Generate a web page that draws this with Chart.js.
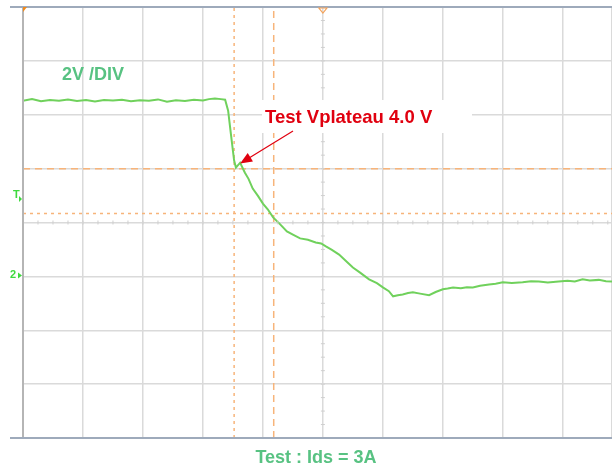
<!DOCTYPE html>
<html>
<head>
<meta charset="utf-8">
<script src="https://cdn.jsdelivr.net/npm/chart.js@4/dist/chart.umd.min.js"></script>
<style>
  body { margin: 0; background: #fff; }
</style>
</head>
<body>
<canvas id="scope" width="612" height="468"></canvas>
<script>
// time axis in divisions, voltage in V (2 V / div)
const traceTime = [0, 0.15, 0.3, 0.45, 0.6, 0.75, 0.9, 1.05, 1.2, 1.35, 1.5, 1.65, 1.8, 1.95, 2.1, 2.25, 2.4, 2.55, 2.7, 2.85, 3.0, 3.1, 3.2, 3.3, 3.37,
  3.42, 3.47, 3.52, 3.55, 3.62, 3.7, 3.76, 3.83, 3.92, 4.0, 4.08, 4.17, 4.28, 4.4, 4.5, 4.62, 4.75, 4.88, 4.97, 5.05, 5.15, 5.27, 5.38, 5.5, 5.62, 5.77, 5.9, 6.0, 6.1, 6.17,
  6.25, 6.33, 6.42, 6.5, 6.62, 6.77, 6.88, 7.0, 7.08, 7.17, 7.3, 7.4, 7.5, 7.62, 7.77, 7.88, 8.0, 8.15, 8.33, 8.47, 8.6, 8.75, 8.93, 9.08, 9.2, 9.33, 9.45, 9.6, 9.72, 9.82];
const traceVolts = [6.52, 6.58, 6.50, 6.55, 6.52, 6.57, 6.51, 6.55, 6.49, 6.55, 6.53, 6.56, 6.50, 6.54, 6.52, 6.57, 6.48, 6.54, 6.51, 6.56, 6.53, 6.58, 6.60, 6.58, 6.56,
  6.15, 5.22, 4.30, 4.04, 4.22, 3.85, 3.62, 3.26, 2.98, 2.70, 2.49, 2.19, 1.95, 1.67, 1.55, 1.41, 1.36, 1.26, 1.22, 1.11, 0.98, 0.81, 0.58, 0.33, 0.14, -0.11, -0.25, -0.41, -0.55, -0.74,
  -0.70, -0.67, -0.62, -0.59, -0.64, -0.70, -0.58, -0.48, -0.45, -0.41, -0.44, -0.40, -0.41, -0.35, -0.30, -0.27, -0.22, -0.25, -0.22, -0.18, -0.19, -0.23, -0.19, -0.16, -0.19, -0.11, -0.15, -0.13, -0.18, -0.19];

// cursor positions
const cursorTime = [3.52, 4.18];
const cursorVolts = [2.33, 4.0];

const xMin = 0, xMax = 9.82;
const yMin = -6, yMax = 10;

const green = '#70d15c';
const textGreen = '#58c282';
const orange = '#f7b47a';
const red = '#e0000f';

const scopeDecor = {
  id: 'scopeDecor',
  afterDraw(chart) {
    const ctx = chart.ctx;
    const a = chart.chartArea;
    const xs = chart.scales.x, ys = chart.scales.y;
    ctx.save();

    // minor ticks on the centre lines (quarter divisions)
    const cx = xs.getPixelForValue(5), cy = ys.getPixelForValue(2);
    ctx.strokeStyle = '#cfcfcf';
    ctx.lineWidth = 1;
    ctx.beginPath();
    for (let t = 0.25; t < xMax; t += 0.25) {
      const px = xs.getPixelForValue(t);
      ctx.moveTo(px, cy - 2); ctx.lineTo(px, cy + 2);
    }
    for (let v = yMin + 0.5; v < yMax; v += 0.5) {
      const py = ys.getPixelForValue(v);
      ctx.moveTo(cx - 2, py); ctx.lineTo(cx + 2, py);
    }
    ctx.stroke();

    // frame
    ctx.strokeStyle = '#b5b5b5';
    ctx.lineWidth = 2;
    ctx.beginPath();
    ctx.moveTo(a.left, a.top); ctx.lineTo(a.left, a.bottom);
    ctx.stroke();
    ctx.strokeStyle = '#9eaabb';
    ctx.lineWidth = 2;
    ctx.beginPath();
    ctx.moveTo(10, a.top); ctx.lineTo(a.right, a.top);
    ctx.moveTo(10, a.bottom); ctx.lineTo(a.right, a.bottom);
    ctx.stroke();

    // top markers
    ctx.fillStyle = '#f08a1c';
    ctx.beginPath();
    ctx.moveTo(a.left, a.top); ctx.lineTo(a.left + 4, a.top); ctx.lineTo(a.left, a.top + 5);
    ctx.fill();
    ctx.strokeStyle = '#f5a35a';
    ctx.lineWidth = 1.2;
    ctx.beginPath();
    ctx.moveTo(cx - 4, a.top + 1); ctx.lineTo(cx + 4, a.top + 1); ctx.lineTo(cx, a.top + 6); ctx.closePath();
    ctx.stroke();

    // trigger and ground markers
    ctx.fillStyle = '#3fd93f';
    ctx.font = 'bold 11px "Liberation Sans"';
    ctx.textAlign = 'left';
    ctx.textBaseline = 'middle';
    ctx.fillText('T', 13, 195);
    ctx.fillText('2', 10, ys.getPixelForValue(0) - 1);
    ctx.beginPath();
    ctx.moveTo(a.left - 4, 196); ctx.lineTo(a.left - 1, 199); ctx.lineTo(a.left - 4, 202); ctx.fill();
    const gy = ys.getPixelForValue(0);
    ctx.beginPath();
    ctx.moveTo(a.left - 5, gy - 4); ctx.lineTo(a.left - 1, gy - 1); ctx.lineTo(a.left - 5, gy + 2); ctx.fill();

    // labels
    ctx.fillStyle = textGreen;
    ctx.font = 'bold 18px "Liberation Sans"';
    ctx.textBaseline = 'alphabetic';
    ctx.fillText('2V /DIV', 62, 80);

    ctx.textAlign = 'center';
    ctx.fillText('Test : Ids = 3A', 316, 463);

    // annotation box + text
    ctx.fillStyle = '#ffffff';
    ctx.fillRect(262, 100, 210, 33);
    ctx.fillStyle = red;
    ctx.font = 'bold 18.5px "Liberation Sans"';
    ctx.textAlign = 'left';
    ctx.fillText('Test Vplateau 4.0 V', 265, 123);

    // arrow to plateau point
    const tipX = xs.getPixelForValue(3.62), tipY = ys.getPixelForValue(4.19);
    const sx = 293, sy = 131;
    const ang = Math.atan2(tipY - sy, tipX - sx);
    ctx.strokeStyle = red;
    ctx.lineWidth = 1.2;
    ctx.beginPath();
    ctx.moveTo(sx, sy);
    ctx.lineTo(tipX - 10 * Math.cos(ang), tipY - 10 * Math.sin(ang));
    ctx.stroke();
    ctx.beginPath();
    ctx.moveTo(tipX, tipY);
    ctx.lineTo(tipX - 12 * Math.cos(ang) + 5 * Math.sin(ang), tipY - 12 * Math.sin(ang) - 5 * Math.cos(ang));
    ctx.lineTo(tipX - 12 * Math.cos(ang) - 5 * Math.sin(ang), tipY - 12 * Math.sin(ang) + 5 * Math.cos(ang));
    ctx.closePath();
    ctx.fillStyle = red;
    ctx.fill();

    ctx.restore();
  }
};

new Chart(document.getElementById('scope'), {
  type: 'line',
  data: {
    datasets: [
      {
        data: traceTime.map((t, i) => ({x: t, y: traceVolts[i]})),
        borderColor: green,
        borderWidth: 2,
        pointRadius: 0,
        tension: 0,
        order: 0
      },
      {
        data: [{x: cursorTime[0], y: yMin}, {x: cursorTime[0], y: yMax}],
        borderColor: orange, borderWidth: 1.5, borderDash: [3, 4], pointRadius: 0, order: 1
      },
      {
        data: [{x: cursorTime[1], y: yMin}, {x: cursorTime[1], y: yMax}],
        borderColor: orange, borderWidth: 1.5, borderDash: [7, 5], pointRadius: 0, order: 1
      },
      {
        data: [{x: xMin, y: cursorVolts[0]}, {x: xMax, y: cursorVolts[0]}],
        borderColor: orange, borderWidth: 1.5, borderDash: [3, 4], pointRadius: 0, order: 1
      },
      {
        data: [{x: xMin, y: cursorVolts[1]}, {x: xMax, y: cursorVolts[1]}],
        borderColor: orange, borderWidth: 1.5, borderDash: [7, 5], pointRadius: 0, order: 1
      }
    ]
  },
  options: {
    responsive: false,
    animation: false,
    layout: { padding: { left: 23, top: 7, right: 0, bottom: 30 } },
    plugins: { legend: { display: false }, tooltip: { enabled: false } },
    scales: {
      x: {
        type: 'linear', min: xMin, max: xMax,
        ticks: { display: false, stepSize: 1 },
        grid: { color: '#dadada', lineWidth: 1.5, drawTicks: false },
        border: { display: false }
      },
      y: {
        min: yMin, max: yMax,
        ticks: { display: false, stepSize: 2 },
        grid: { color: '#dadada', lineWidth: 1.5, drawTicks: false },
        border: { display: false }
      }
    }
  },
  plugins: [scopeDecor]
});
</script>
</body>
</html>
